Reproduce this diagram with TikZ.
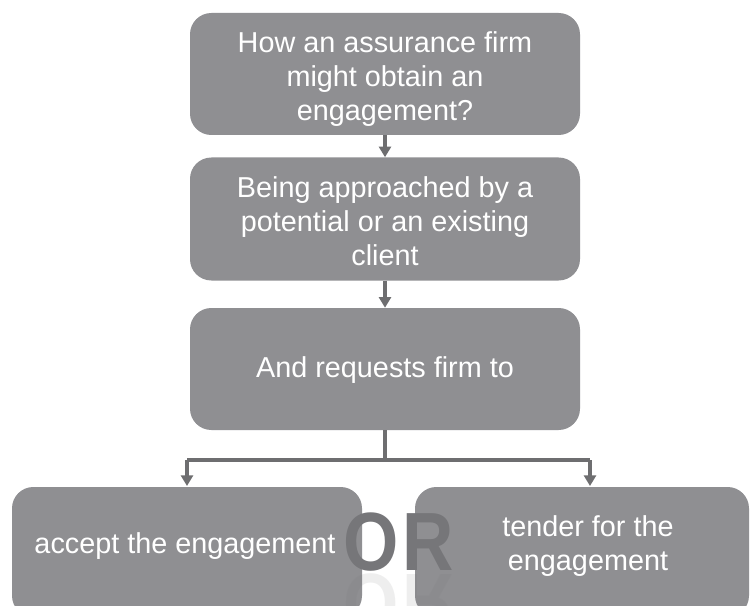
\documentclass[tikz,border=0pt]{standalone}
\usepackage{fontspec}
\setmainfont{Liberation Sans}
\usetikzlibrary{arrows.meta}
\definecolor{boxgray}{RGB}{143,143,146}
\definecolor{arrgray}{RGB}{110,110,112}
\definecolor{orgray}{RGB}{118,118,121}
\tikzset{
  flowbox/.style={fill=boxgray, draw=none, rounded corners=16pt, inner sep=0pt},
  boxtext/.style={text=white, align=center, font=\fontsize{21.6}{25.5}\selectfont, inner sep=0pt},
  conn/.style={draw=arrgray, line width=2.6pt, -{Triangle[width=9pt,length=8pt]}},
  connline/.style={draw=arrgray, line width=2.6pt},
  ortext/.style={text=orgray, font=\fontsize{62}{62}\selectfont\bfseries, inner sep=0pt, xscale=0.86}
}
\begin{document}
\begin{tikzpicture}[x=0.75pt,y=-0.75pt]
\useasboundingbox[fill=white] (0,0) rectangle (750,606);
\begin{scope}
\clip (0,0) rectangle (750,606);
\node[flowbox, minimum width=390*0.75pt, minimum height=122*0.75pt] (b1) at (385,74) {};
\node[boxtext] (t1) at (385,79) {How an assurance firm\\might obtain an\\engagement?};
\node[flowbox, minimum width=390*0.75pt, minimum height=123*0.75pt] (b2) at (385,219) {};
\node[boxtext] (t2) at (385,221) {Being approached by a\\potential or an existing\\client};
\node[flowbox, minimum width=390*0.75pt, minimum height=122*0.75pt] (b3) at (385,369) {};
\node[boxtext] (t3) at (385,370) {And requests firm to};
\node[flowbox, minimum width=350*0.75pt, minimum height=130*0.75pt] (b4) at (187,552) {};
\node[boxtext] (t4) at (185,546) {accept the engagement};
\node[flowbox, minimum width=334*0.75pt, minimum height=130*0.75pt] (b5) at (582,552) {};
\node[boxtext] (t5) at (588,546) {tender for the\\engagement};
% OR
\node[ortext, anchor=base] (o) at (371,570) {O};
\node[ortext, anchor=base] (r) at (428,570) {R};
\node[ortext, anchor=base, yscale=-1, opacity=0.12] (o2) at (371,574) {O};
\node[ortext, anchor=base, yscale=-1, opacity=0.12] (r2) at (428,574) {R};
\end{scope}
% connectors
\draw[conn] (b1.south) -- (b2.north);
\draw[conn] (b2.south) -- (b3.north);
\coordinate (j) at (385,460);
\coordinate (jl) at (187,460);
\coordinate (jr) at (590,460);
\coordinate (el) at (187,486);
\coordinate (er) at (590,486);
\draw[connline] (b3.south) -- (j);
\draw[connline] (jl) -- (jr);
\draw[conn] (jl) -- (el);
\draw[conn] (jr) -- (er);
\end{tikzpicture}
\end{document}
